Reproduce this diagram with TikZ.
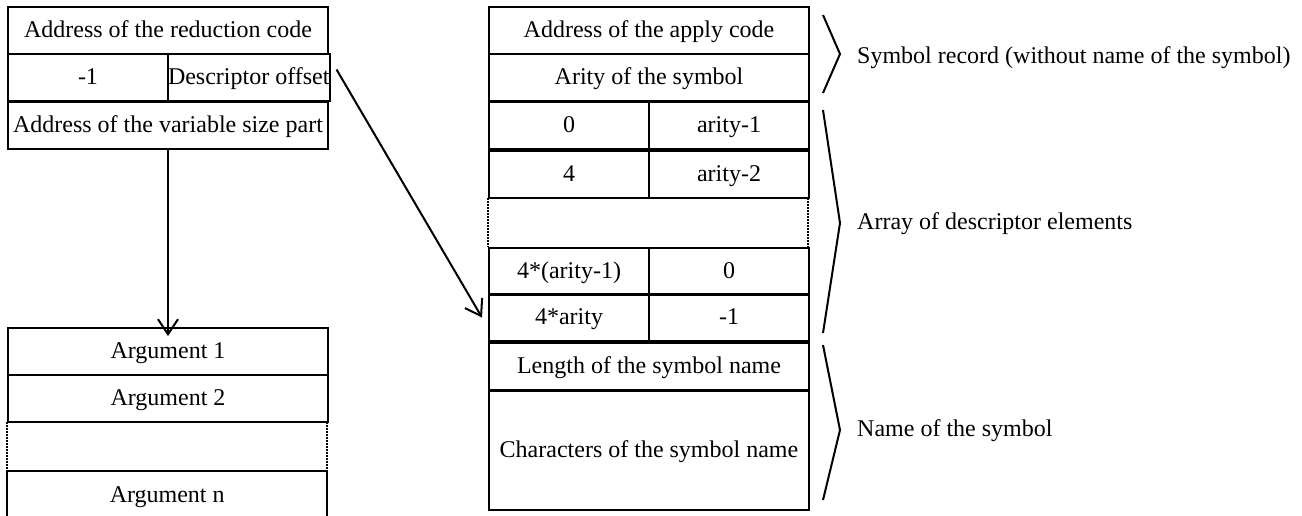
\documentclass[tikz,border=0pt]{standalone}
\usepackage{fontspec}
\setmainfont{Liberation Serif}
\usetikzlibrary{arrows.meta}

\begin{document}
\begin{tikzpicture}[x=1pt, y=-1pt,
  every node/.style={font=\fontsize{24}{28}\selectfont},
  cell/.style={draw, line width=2pt, inner sep=0pt, anchor=north west, minimum height=#1,
    text height=18pt, text depth=5pt},
  cell/.default=47pt,
  full/.style={minimum width=320pt},
  half/.style={minimum width=160pt},
  gap/.style={inner sep=0pt, anchor=north west, minimum width=320pt, minimum height=#1},
  dots/.style={line width=2pt, dash pattern=on 1.5pt off 1.5pt},
  link/.style={line width=2pt, -{Straight Barb[length=15pt,width=20pt,line width=2pt]}},
  brace/.style={line width=2pt},
  label/.style={anchor=west, inner sep=0pt, text height=18pt, text depth=5pt}]

\useasboundingbox (0,0) rectangle (1302,515);

% ---- node record (left, top)
\node[cell, full] (redcode) at (7,6) {Address of the reduction code};
\node[cell, half] (minus) at (7,53) {-1};
\node[cell, half] (desc) at (167,53) {Descriptor offset};
\node[cell, full] (varpart) at (7,101) {Address of the variable size part};

% ---- variable size part (left, bottom)
\node[cell, full] (arg1) at (7,327) {Argument 1};
\node[cell, full] (arg2) at (7,374) {Argument 2};
\node[gap=49pt] (argdots) at (7,422) {};
\draw[dots] (argdots.north west) -- (argdots.south west);
\draw[dots] (argdots.north east) -- (argdots.south east);
\node[inner sep=0pt, anchor=north west, minimum width=320pt, minimum height=50pt,
  text height=18pt, text depth=5pt] (argn) at (7,471) {Argument n};
\draw[line width=2pt] (argn.south west) -- (argn.north west) -- (argn.north east) -- (argn.south east);

% ---- descriptor (right)
\node[cell, full] (apply) at (488,6) {Address of the apply code};
\node[cell, full] (arity) at (488,53) {Arity of the symbol};
\node[cell, half] (e0a) at (488,101) {0};
\node[cell, half] (e0b) at (648,101) {arity-1};
\node[cell, half] (e1a) at (488,150) {4};
\node[cell, half] (e1b) at (648,150) {arity-2};
\node[gap=49pt] (edots) at (488,198) {};
\draw[dots] (edots.north west) -- (edots.south west);
\draw[dots] (edots.north east) -- (edots.south east);
\node[cell, half] (e2a) at (488,247) {4*(arity-1)};
\node[cell, half] (e2b) at (648,247) {0};
\node[cell, half] (e3a) at (488,293) {4*arity};
\node[cell, half] (e3b) at (648,293) {-1};
\node[cell, full] (namelen) at (488,342) {Length of the symbol name};
\node[cell=119pt, full] (namechars) at (488,390) {Characters of the symbol name};

% ---- pointers
\draw[link] (varpart.south) -- ([yshift=-9pt]arg1.north);
\draw[link] ([xshift=6pt, yshift=8pt]desc.east) -- ([xshift=-6pt]e3a.west);

% ---- group braces and their labels
\node[label] (lsym) at (857,57) {Symbol record (without name of the symbol)};
\node[label] (larr) at (857,223) {Array of descriptor elements};
\node[label] (lname) at (857,430) {Name of the symbol};
\draw[brace] (823,15) -- (840,54) -- (823,93);
\draw[brace] (823,110) -- (840,223) -- (823,333);
\draw[brace] (823,345) -- (840,430) -- (823,500);

\end{tikzpicture}
\end{document}
